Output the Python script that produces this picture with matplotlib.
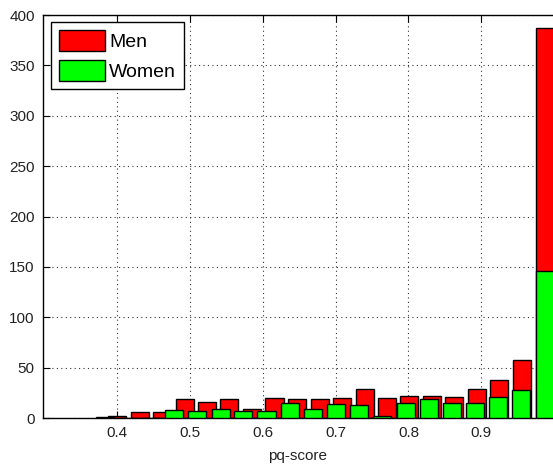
import matplotlib.pyplot as plt

# histogram of pq-score, 20 bins per group
men_centers = [0.400, 0.431, 0.462, 0.493, 0.523, 0.554, 0.585, 0.616, 0.647, 0.678,
               0.709, 0.740, 0.770, 0.801, 0.832, 0.863, 0.894, 0.925, 0.956, 0.987]
men_counts = [2, 6, 6, 19, 16, 19, 9, 20, 19, 19,
              20, 29, 20, 22, 22, 21, 29, 38, 58, 387]

women_centers = [0.383, 0.414, 0.446, 0.478, 0.510, 0.542, 0.573, 0.605, 0.637, 0.669,
                 0.701, 0.732, 0.764, 0.796, 0.828, 0.860, 0.891, 0.923, 0.955, 0.987]
women_counts = [1, 0, 0, 8, 7, 9, 7, 7, 15, 9,
                14, 13, 2, 15, 19, 15, 15, 21, 28, 146]

x_ticks = [0.4, 0.5, 0.6, 0.7, 0.8, 0.9]
y_ticks = [0, 50, 100, 150, 200, 250, 300, 350, 400]

plt.rcParams['font.family'] = ['Liberation Sans', 'DejaVu Sans']

W, H = 553, 469
fig = plt.figure(figsize=(W / 100, H / 100), dpi=100)
ax = fig.add_axes([43 / W, 51 / H, 510 / W, 403 / H])

men_w = 0.8 * (men_centers[1] - men_centers[0])
women_w = 0.8 * (women_centers[1] - women_centers[0])

ax.bar(men_centers, men_counts, width=men_w, color='#ff0000', edgecolor='black',
       linewidth=1.0, label='Men', zorder=2)
ax.bar(women_centers, women_counts, width=women_w, color='#00ff00', edgecolor='black',
       linewidth=1.0, label='Women', zorder=3)

ax.set_xlim(0.298, 0.298 + 510 / 728)
ax.set_ylim(0, 400)
ax.set_xticks(x_ticks)
ax.set_xticklabels(['%.1f' % t for t in x_ticks])
ax.set_yticks(y_ticks)
ax.tick_params(direction='in', length=5, labelsize=11, top=True, right=False,
               pad=6, labelcolor='#222222')
ax.grid(True, color='#333333', linestyle=(0, (1, 3)), linewidth=0.8, zorder=0)
ax.set_axisbelow(True)
ax.spines['right'].set_visible(False)
for s in ['left', 'bottom', 'top']:
    ax.spines[s].set_linewidth(1.0)

ax.set_xlabel('pq-score', fontsize=11, labelpad=6, color='#222222')

leg = ax.legend(loc='upper left', bbox_to_anchor=(51 / W, 1 - 22 / H),
                bbox_transform=fig.transFigure, borderaxespad=0,
                fontsize=14, handlelength=2.4, handleheight=1.3,
                handletextpad=0.2, borderpad=0.4, labelspacing=0.45,
                fancybox=False, framealpha=1, edgecolor='black')
leg.get_frame().set_linewidth(1.0)

fig.savefig('out.png', dpi=100)
